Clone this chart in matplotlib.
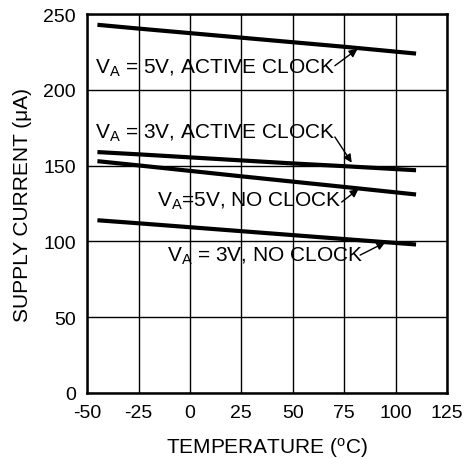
import matplotlib
matplotlib.use('Agg')
import matplotlib.pyplot as plt

plt.rcParams['font.family'] = ['Liberation Sans', 'DejaVu Sans']
plt.rcParams['mathtext.default'] = 'regular'
plt.rcParams['axes.unicode_minus'] = False

# temperature points (deg C) and supply current (uA)
temps = [-45, -25, 0, 25, 50, 75, 110]
va5_active = [243, 240.5, 237.5, 234.5, 231.5, 228.5, 224]
va3_active = [159, 157.5, 155.5, 153.5, 151.5, 149.7, 147]
va5_noclk = [153, 150.2, 146.6, 143, 139.5, 136, 131]
va3_noclk = [114, 112, 109.4, 106.8, 104.2, 101.6, 98]

series = [va5_active, va3_active, va5_noclk, va3_noclk]

# label text, label anchor (left, centre), arrow tail, arrow tip
labels = [r'V$_{A}$ = 5V, ACTIVE CLOCK',
          r'V$_{A}$ = 3V, ACTIVE CLOCK',
          r'V$_{A}$=5V, NO CLOCK',
          r'V$_{A}$ = 3V, NO CLOCK']
label_pos = [(-46, 215), (-46, 172), (-16, 127), (-11, 91)]
arrow_tail = [(70.5, 216), (70.5, 169), (73.8, 126), (82.8, 91)]
arrow_tip = [(81.5, 227), (78.7, 152), (82, 134.6), (95, 99.4)]

fig = plt.figure(figsize=(4.66, 4.6), dpi=100)
ax = fig.add_axes([0.187, 0.1435, 0.772, 0.8235])

for s in series:
    ax.plot(temps, s, color='black', lw=3.0, solid_capstyle='butt')

for txt, pos, tail, tip in zip(labels, label_pos, arrow_tail, arrow_tip):
    ax.text(pos[0], pos[1], txt, fontsize=15, ha='left', va='center')
    ax.annotate('', xy=tip, xytext=tail,
                arrowprops=dict(arrowstyle='-|>', color='black', lw=1,
                                mutation_scale=12, shrinkA=0, shrinkB=0))

ax.set_xlim(-50, 125)
ax.set_ylim(0, 250)
ax.set_xticks(range(-50, 126, 25))
ax.set_yticks(range(0, 251, 50))
ax.grid(True, color='black', lw=1)
ax.tick_params(length=0, labelsize=14)
ax.tick_params(axis='x', pad=8)
ax.tick_params(axis='y', pad=8)
for sp in ax.spines.values():
    sp.set_linewidth(1.8)

ax.set_xlabel(r'TEMPERATURE ($^{o}$C)', fontsize=15, labelpad=10)
ax.set_ylabel('SUPPLY CURRENT (\u03bcA)', fontsize=15, labelpad=8)

fig.savefig('out.png', dpi=100)
